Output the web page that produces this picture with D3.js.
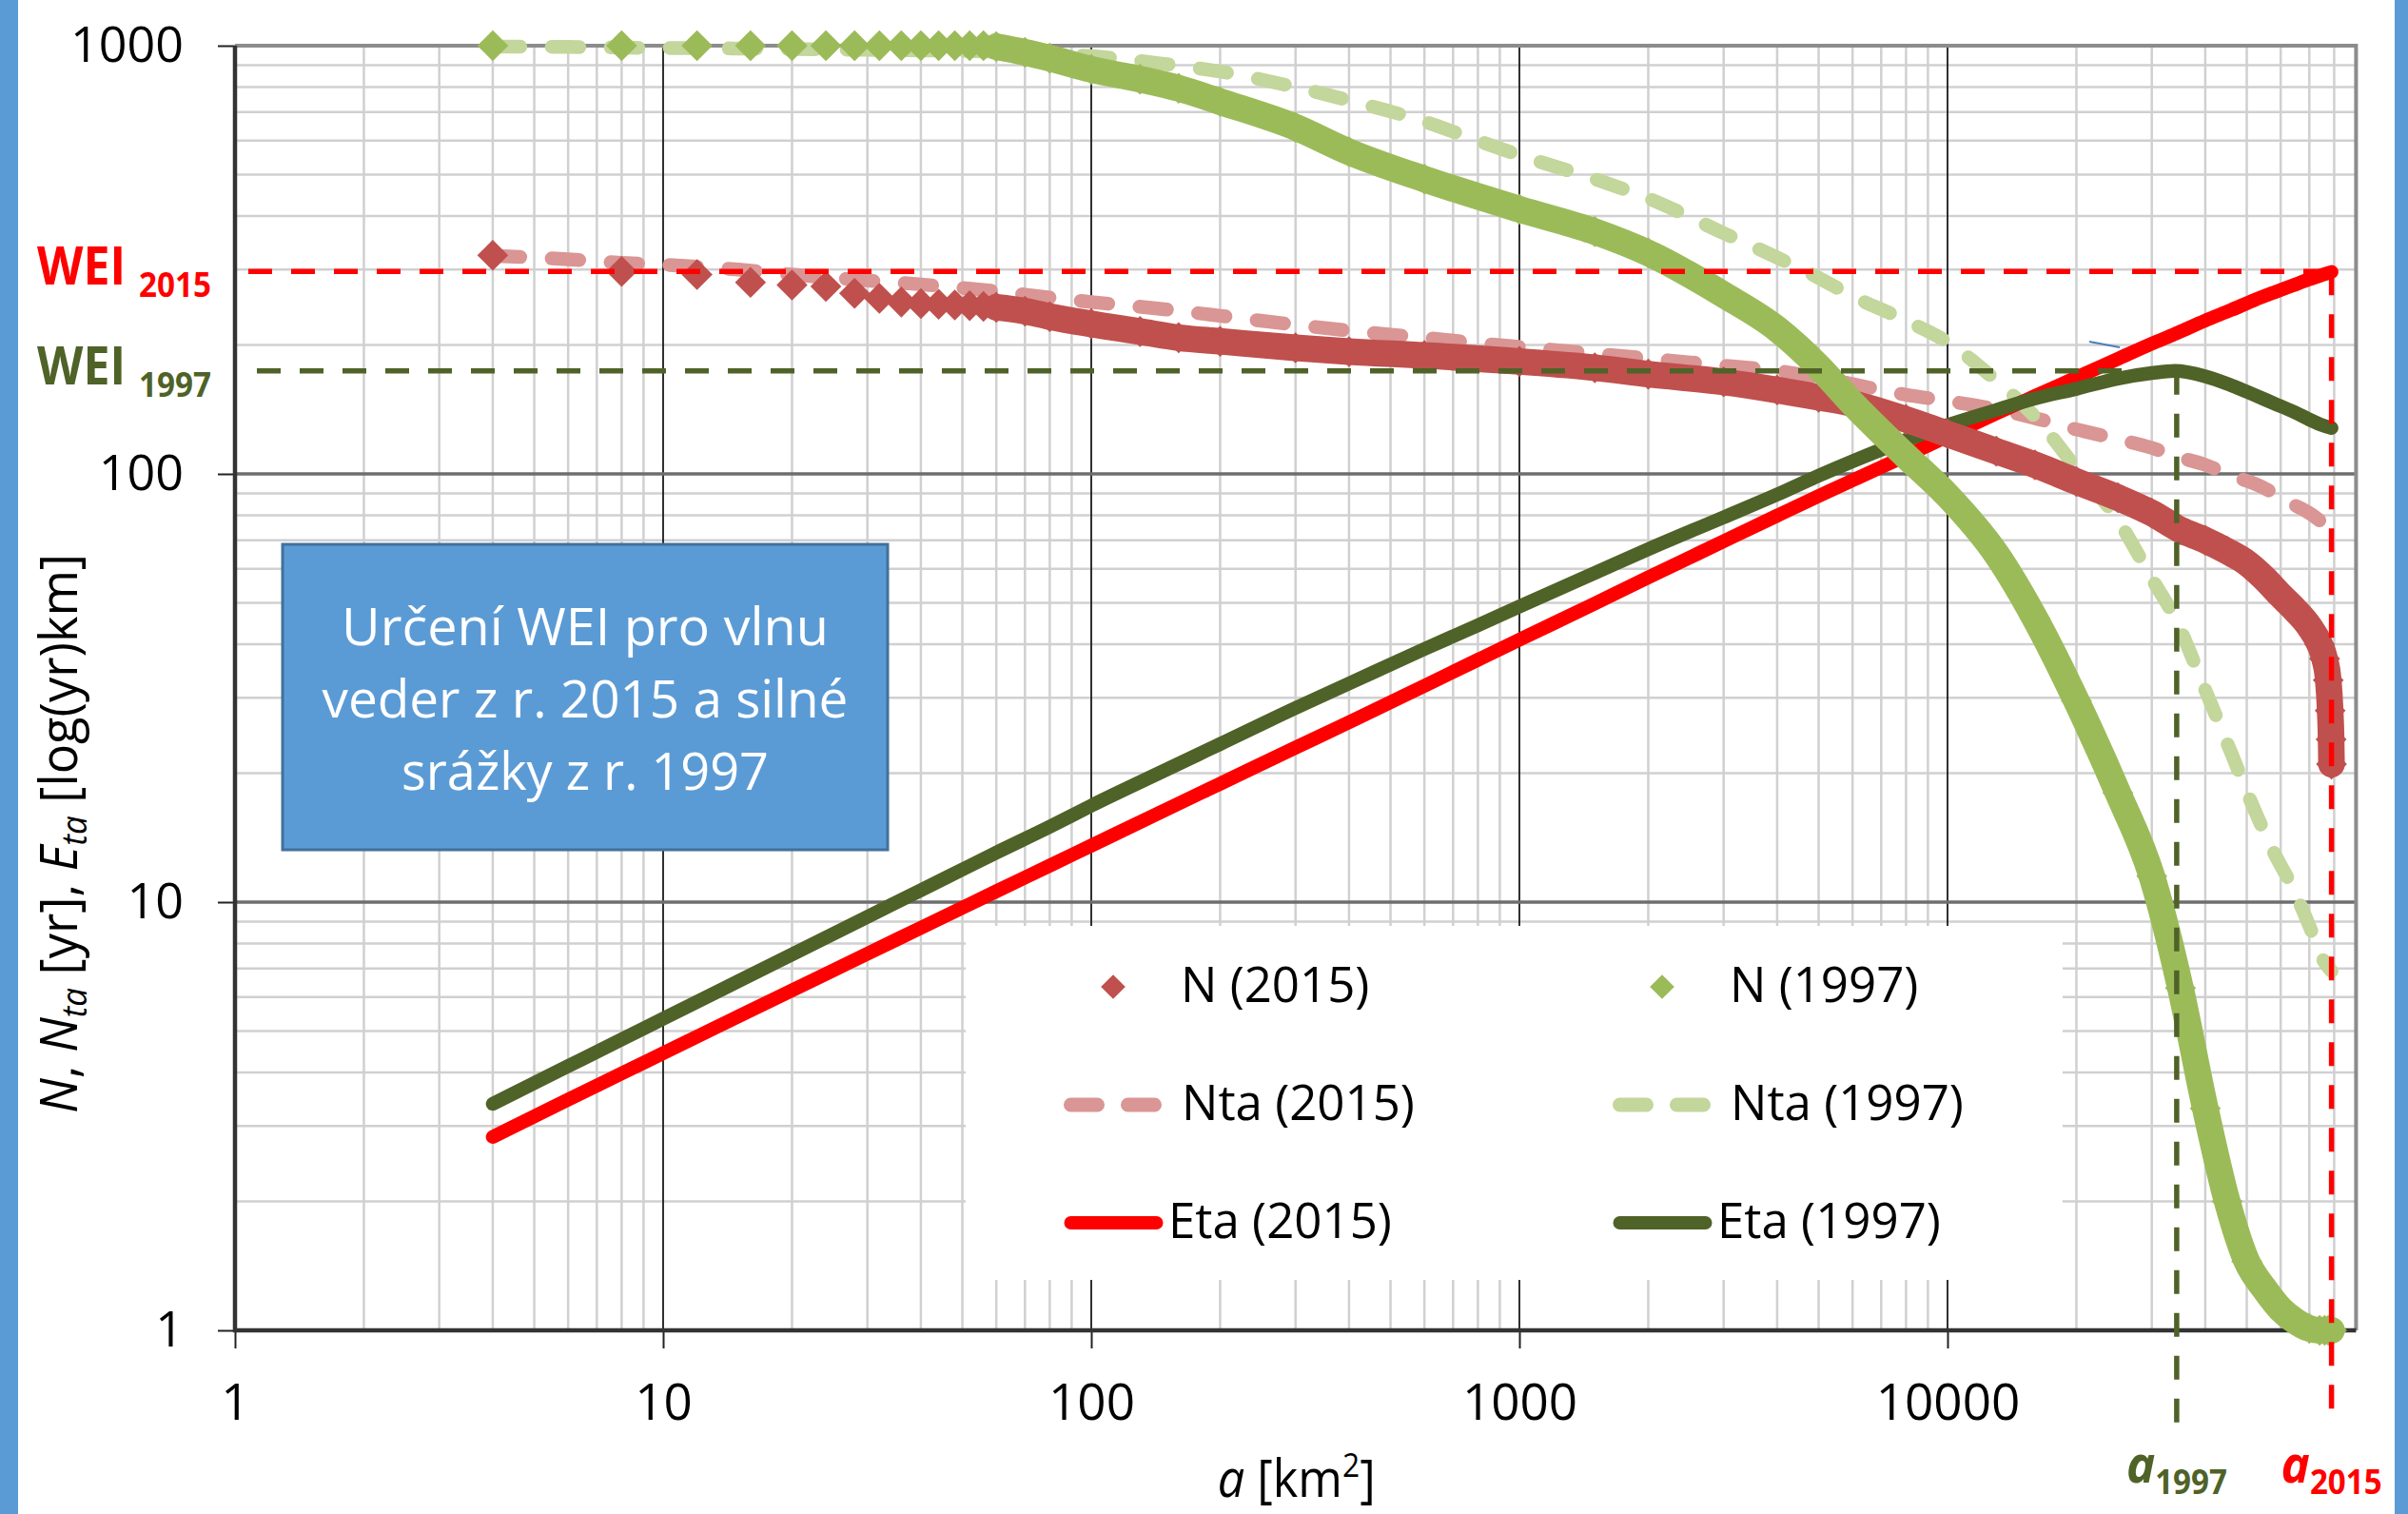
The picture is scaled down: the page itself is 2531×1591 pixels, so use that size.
<!DOCTYPE html>
<html>
<head>
<meta charset="UTF-8">
<title>Určení WEI 2015 / 1997</title>
<script src="https://d3js.org/d3.v7.min.js"></script>
<style>
body { margin: 0; background: #fff; }
svg { display: block; }
text { font-family: "Open Sans", "Noto Sans", sans-serif; }
</style>
</head>
<body>
<svg id="chart" width="2531" height="1591"></svg>
<script>
// ---- data ----
// area a [km2] for the N markers (every 4 km2 at the start, sampled further on)
let nArea = [4, 8, 12, 16, 20, 24, 28, 32, 36, 40, 44, 48, 52, 56,
    60, 70, 80, 100, 130, 160, 200, 300, 400, 600,
    1000, 1500, 2000, 3000, 4000, 5000, 6000, 8000,
    10000, 13000, 16000, 20000, 25000, 30000, 35000, 40000, 45000, 50000, 55000, 60000, 65000, 70000,
    74000, 76000, 77500, 78300, 78700, 78866];
let n2015 = [324, 297, 292, 280, 276, 274, 264, 257, 252, 250, 249, 248, 247, 246,
    245, 240, 233, 224, 215, 208, 204, 197, 193, 189,
    183, 177, 171, 164, 157, 151, 146, 134,
    124, 113, 105, 96, 88, 81, 74, 70, 66, 62, 57, 52, 48, 44,
    40, 37, 33, 28, 24, 21];
let n1997 = [1000, 1000, 1000, 1000, 1000, 1000, 1000, 1000, 1000, 1000, 1000, 1000, 1000, 1000,
    995, 965, 935, 880, 835, 795, 740, 645, 565, 488,
    415, 368, 328, 262, 218, 178, 146, 110,
    89, 65, 46, 29.5, 18, 11.5, 6.3, 3.3, 2.0, 1.45, 1.25, 1.12, 1.05, 1.01,
    1, 1, 1, 1, 1, 1];

// area a [km2] for the line series
let lineArea = [4, 6, 8, 10, 15, 20, 30, 40, 60, 80,
    100, 150, 200, 300, 400, 600, 800, 1000, 1500, 2000,
    3000, 4000, 5000, 6000, 8000, 10000, 13000, 16000, 20000, 25000,
    30000, 34000, 40000, 46000, 52000, 58000, 64000, 70000, 75000, 78866];
let nta2015 = [323, 317, 311, 308, 300, 292, 283, 277, 267, 258,
    252, 242, 234, 223, 216, 208, 202, 198, 191, 186,
    179, 174, 168, 162, 153, 148, 141.6, 135, 127, 120.5,
    115, 110, 105, 99, 95, 90, 85, 81, 77, 74];
let nta1997 = [995, 993, 990, 988, 985, 982, 978, 975, 968, 955,
    945, 905, 870, 800, 745, 665, 600, 555, 488, 440,
    365, 320, 287, 260, 228, 203, 165, 136, 103, 78,
    57, 46, 31.3, 22.3, 16.5, 13, 10.8, 8.8, 7.4, 6.9];
let eta2015 = [2.83, 3.46, 3.98, 4.44, 5.41, 6.22, 7.58, 8.71, 10.6, 12.17,
    13.55, 16.47, 18.9, 22.95, 26.3, 32.0, 36.8, 41.0, 49.8, 57.3,
    69.6, 79.9, 88.8, 96.6, 110.2, 122.4, 138.4, 152.0, 167.9, 185.6,
    201.4, 212.3, 228.1, 241.5, 254.5, 265.5, 275.4, 284.8, 291.4, 296.2];
let eta1997 = [3.38, 4.14, 4.78, 5.34, 6.54, 7.55, 9.24, 10.66, 13.05, 15.0,
    16.8, 20.4, 23.4, 28.4, 32.4, 39.0, 44.3, 49.0, 58.7, 66.7,
    79.2, 89.5, 99, 107, 120, 130, 141, 150, 158, 167,
    172, 174, 169, 161, 153, 146, 140, 134, 130, 128];

// WEI values and the areas where they are reached
let weiYears = ["2015", "1997"];
let weiValues = [297, 174];
let weiAreas = [78866, 34300];

let xTicks = [1, 10, 100, 1000, 10000];
let yTicks = [1, 10, 100, 1000];

let legendLabels = ["N (2015)", "N (1997)", "Nta (2015)", "Nta (1997)", "Eta (2015)", "Eta (1997)"];
let boxLines = ["Určení WEI pro vlnu", "veder z r. 2015 a silné", "srážky z r. 1997"];

// ---- colours ----
let cN15 = "#C0504D", cN97 = "#9BBB59";
let cNta15 = "#D99694", cNta97 = "#C3D69B";
let cEta15 = "#FF0000", cEta97 = "#4F6228";
let slideBlue = "#5B9BD5";

let svg = d3.select("#chart");

svg.append("rect").attr("width", 2531).attr("height", 1591).attr("fill", "#fff");
svg.append("rect").attr("x", 0).attr("width", 19).attr("height", 1591).attr("fill", slideBlue);
svg.append("rect").attr("x", 2517).attr("width", 14).attr("height", 1591).attr("fill", slideBlue);

let x = d3.scaleLog().domain([1, 90000]).range([247, 247 + 450 * Math.log10(90000)]);
let y = d3.scaleLog().domain([1, 1000]).range([1398, 48]);
let xL = x.range()[0], xR = x.range()[1];
let yB = y.range()[0], yT = y.range()[1];

let isDecade = d => Math.abs(Math.log10(d) - Math.round(Math.log10(d))) < 1e-9;

// squeeze a text horizontally to a given width, around its x anchor
function fitX(sel, target) {
    let w = sel.node().getBBox().width;
    let ax = +sel.attr("x") || 0;
    sel.attr("transform", `translate(${ax},0) scale(${target / w},1) translate(${-ax},0)`);
}

// ---- grid ----
let grid = svg.append("g");
grid.selectAll("line.xminor")
    .data(x.ticks().filter(d => !isDecade(d)))
    .join("line")
    .attr("x1", d => x(d)).attr("x2", d => x(d))
    .attr("y1", yT).attr("y2", yB)
    .attr("stroke", "#D0D0D0").attr("stroke-width", 2.5);
grid.selectAll("line.yminor")
    .data(y.ticks().filter(d => !isDecade(d)))
    .join("line")
    .attr("x1", xL).attr("x2", xR)
    .attr("y1", d => y(d)).attr("y2", d => y(d))
    .attr("stroke", "#D0D0D0").attr("stroke-width", 2.5);
grid.selectAll("line.xmajor")
    .data(xTicks.slice(1))
    .join("line")
    .attr("x1", d => x(d)).attr("x2", d => x(d))
    .attr("y1", yT).attr("y2", yB)
    .attr("stroke", "#1A1A1A").attr("stroke-width", 1.8);
grid.selectAll("line.ymajor")
    .data(yTicks.slice(1, -1))
    .join("line")
    .attr("x1", xL).attr("x2", xR)
    .attr("y1", d => y(d)).attr("y2", d => y(d))
    .attr("stroke", "#6E6E6E").attr("stroke-width", 3.5);
// top and right frame
grid.append("path")
    .attr("d", `M${xL},${yT}H${xR}V${yB}`)
    .attr("fill", "none").attr("stroke", "#8C8C8C").attr("stroke-width", 4);

// ---- axes ----
let yAxis = svg.append("g")
    .attr("transform", `translate(${xL},0)`)
    .call(d3.axisLeft(y).tickValues(yTicks).tickFormat(d3.format("d")).tickSize(18).tickSizeOuter(0).tickPadding(36));
let xAxis = svg.append("g")
    .attr("transform", `translate(0,${yB})`)
    .call(d3.axisBottom(x).tickValues(xTicks).tickFormat(d3.format("d")).tickSize(19).tickSizeOuter(0).tickPadding(37));
[yAxis, xAxis].forEach(g => {
    g.select(".domain").remove();
    g.selectAll(".tick line").attr("stroke", "#222").attr("stroke-width", 2);
    g.selectAll(".tick text").attr("fill", "#000").attr("font-family", "'Open Sans', sans-serif");
});
yAxis.selectAll(".tick text").attr("font-size", 52);
xAxis.selectAll(".tick text").attr("font-size", 53);
svg.append("path")
    .attr("d", `M${xL},${yT}V${yB}H${xR}`)
    .attr("fill", "none").attr("stroke", "#333").attr("stroke-width", 4.5);

// axis titles
let yTitle = svg.append("g").attr("transform", "translate(81,876) rotate(-90)")
    .append("text").attr("x", 0).attr("y", 0).attr("text-anchor", "middle")
    .attr("font-size", 54).attr("fill", "#000");
yTitle.append("tspan").attr("font-style", "italic").text("N");
yTitle.append("tspan").text(", ");
yTitle.append("tspan").attr("font-style", "italic").text("N");
yTitle.append("tspan").attr("font-style", "italic").attr("font-size", 36).attr("dy", 10).text("ta");
yTitle.append("tspan").attr("dy", -10).text(" [yr], ");
yTitle.append("tspan").attr("font-style", "italic").text("E");
yTitle.append("tspan").attr("font-style", "italic").attr("font-size", 36).attr("dy", 10).text("ta");
yTitle.append("tspan").attr("dy", -10).text(" [log(yr)km]");
fitX(yTitle, 588);

let xTitle = svg.append("text").attr("x", (xL + xR) / 2 + 1).attr("y", 1573)
    .attr("text-anchor", "middle").attr("font-size", 54).attr("fill", "#000");
xTitle.append("tspan").attr("font-style", "italic").text("a");
xTitle.append("tspan").text(" [km");
xTitle.append("tspan").attr("font-size", 34).attr("dy", -21).text("2");
xTitle.append("tspan").attr("dy", 21).text("]");
fitX(xTitle, 166);

// ---- text box ----
svg.append("rect")
    .attr("x", 297).attr("y", 572).attr("width", 636).attr("height", 321)
    .attr("fill", slideBlue).attr("stroke", "#41719C").attr("stroke-width", 3);
let boxWidths = [512, 553, 386];
boxLines.forEach((t, i) => {
    let tx = svg.append("text")
        .attr("x", 615).attr("y", 678 + i * 76)
        .attr("text-anchor", "middle").attr("font-size", 55).attr("fill", "#fff")
        .text(t);
    fitX(tx, boxWidths[i]);
});
// small stray connector stroke left from the text box in the original
svg.append("line").attr("x1", 2196).attr("y1", 359).attr("x2", 2228).attr("y2", 365)
    .attr("stroke", "#4A7EBB").attr("stroke-width", 2);

// ---- legend ----
svg.append("rect").attr("x", 1015).attr("y", 973).attr("width", 1153).attr("height", 372).attr("fill", "#fff");

// ---- series ----
let line = d3.line().x(d => x(d[0])).y(d => y(d[1])).curve(d3.curveMonotoneX);
let diamond = d3.symbol(d3.symbolSquare, 530);

function lineSeries(vals, color, width, dash) {
    svg.append("path")
        .datum(lineArea.map((a, i) => [a, vals[i]]))
        .attr("d", line)
        .attr("fill", "none").attr("stroke", color).attr("stroke-width", width)
        .attr("stroke-linecap", "round").attr("stroke-linejoin", "round")
        .attr("stroke-dasharray", dash);
}

function markerSeries(vals, color) {
    let g = svg.append("g");
    // where the marker list is sampled (step > 4 km2) the markers sit on top of each other -> solid band
    let segs = [], cur = null;
    for (let i = 1; i < nArea.length; i++) {
        if (nArea[i] - nArea[i - 1] > 4) {
            if (!cur) { cur = [[nArea[i - 1], vals[i - 1]]]; segs.push(cur); }
            cur.push([nArea[i], vals[i]]);
        } else cur = null;
    }
    g.selectAll("path.band").data(segs).join("path")
        .attr("d", line)
        .attr("fill", "none").attr("stroke", color).attr("stroke-width", 28)
        .attr("stroke-linejoin", "round").attr("stroke-linecap", "round");
    g.selectAll("path.mk").data(nArea.map((a, i) => [a, vals[i]])).join("path")
        .attr("d", diamond)
        .attr("transform", d => `translate(${x(d[0])},${y(d[1])}) rotate(45)`)
        .attr("fill", color);
}

// lines first, markers on top (as the spreadsheet draws them)
lineSeries(nta2015, cNta15, 14.5, "29 33");
lineSeries(nta1997, cNta97, 14.5, "29 33");
lineSeries(eta2015, cEta15, 14.5, null);
lineSeries(eta1997, cEta97, 14.5, null);
markerSeries(n2015, cN15);
markerSeries(n1997, cN97);

// ---- legend entries ----
let legendKinds = ["marker", "marker", "dash", "dash", "line", "line"];
let legendColors = [cN15, cN97, cNta15, cNta97, cEta15, cEta97];
let legendCols = [1170, 1747], legendRows = [1037, 1161, 1285];
let textOffset = {marker: 71, dash: 72, line: 58};
let legendDiamond = d3.symbol(d3.symbolSquare, 330);
legendLabels.forEach((lab, i) => {
    let cx = legendCols[i % 2], cy = legendRows[Math.floor(i / 2)];
    let kind = legendKinds[i];
    if (kind === "marker") {
        svg.append("path").attr("d", legendDiamond)
            .attr("transform", `translate(${cx},${cy}) rotate(45)`)
            .attr("fill", legendColors[i]);
    } else {
        svg.append("line")
            .attr("x1", cx - 44.5).attr("x2", cx + 45.5).attr("y1", cy).attr("y2", cy)
            .attr("stroke", legendColors[i]).attr("stroke-width", kind === "dash" ? 15 : 14)
            .attr("stroke-linecap", "round")
            .attr("stroke-dasharray", kind === "dash" ? "28 32" : null);
    }
    svg.append("text")
        .attr("x", cx + textOffset[kind]).attr("y", cy + 16)
        .attr("font-size", 51).attr("fill", "#000")
        .text(lab);
});

// ---- WEI construction lines ----
let weiColors = [cEta15, cEta97];
let weiStart = [xL + 14, xL + 23];
let weiBottom = [1488, 1507];
weiYears.forEach((yr, i) => {
    let wy = y(weiValues[i]), wx = x(weiAreas[i]);
    svg.append("path")
        .attr("d", `M${weiStart[i]},${wy}H${wx}`)
        .attr("fill", "none").attr("stroke", weiColors[i]).attr("stroke-width", 5.5)
        .attr("stroke-dasharray", "25 20");
    svg.append("path")
        .attr("d", `M${wx},${wy}V${weiBottom[i]}`)
        .attr("fill", "none").attr("stroke", weiColors[i]).attr("stroke-width", 5.5)
        .attr("stroke-dasharray", "25 20");

    // WEI label on the left
    let wl = svg.append("text").attr("x", 39).attr("y", wy + 14)
        .attr("font-size", 55).attr("font-weight", "bold").attr("fill", weiColors[i]).text("WEI");
    fitX(wl, 93);
    let ws = svg.append("text").attr("x", 146).attr("y", wy + 27)
        .attr("font-size", 35).attr("font-weight", "bold").attr("fill", weiColors[i]).text(yr);
    fitX(ws, 76);

    // a label under the axis
    let al = svg.append("text").attr("x", wx).attr("y", 1558)
        .attr("text-anchor", "middle").attr("font-weight", "bold").attr("fill", weiColors[i]);
    al.append("tspan").attr("font-style", "italic").attr("font-size", 54).text("a");
    al.append("tspan").attr("font-size", 35).attr("dy", 12).text(yr);
    fitX(al, 106);
});
</script>
</body>
</html>
